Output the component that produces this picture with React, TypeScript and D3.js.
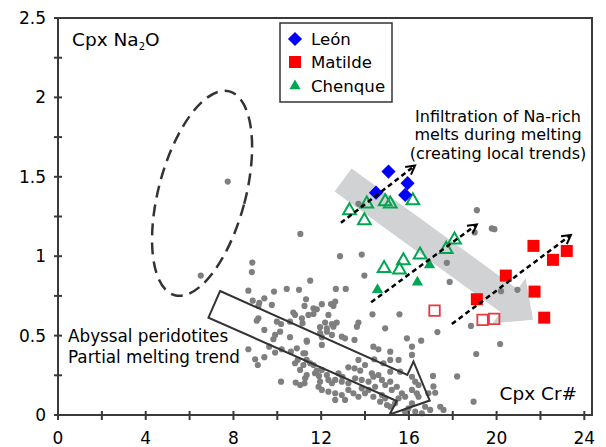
import * as d3 from "d3";
import React from "react";

const WIDTH = 606;
const HEIGHT = 447;
const MARGIN = { top: 18, right: 14, bottom: 32, left: 58 };
const FONT = "DejaVu Sans, Verdana, sans-serif";

// axis ticks
const xTicks = [0, 2, 4, 6, 8, 10, 12, 14, 16, 18, 20, 22, 24];
const xTickLabels = [0, 4, 8, 12, 16, 20, 24];
const yTicks = [0, 0.25, 0.5, 0.75, 1, 1.25, 1.5, 1.75, 2, 2.25, 2.5];
const yTickLabels = [0, 0.5, 1, 1.5, 2, 2.5];

// abyssal peridotites (Cpx Cr#, Cpx Na2O)
const abyssal: [number, number][] = [
    [7.74, 1.47], [6.51, 0.878], [11.05, 1.14], [13.7, 1.33], [19.1, 1.29], [19.0, 1.15],
    [19.78, 1.175], [19.9, 1.17], [17.73, 0.958], [17.86, 0.838], [20.2, 0.78], [20.95, 0.788],
    [18.83, 0.561], [19.07, 0.384], [20.16, 0.447], [18.2, 0.243], [18.95, 0.084],
    [17.1, 0.246], [17.12, 0.18], [17.2, 0.14], [17.3, 0.522], [16.14, 0.378], [16.44, 0.115],
    [17.43, 0.052], [17.58, 0.032], [15.15, 0.399], [15.15, 0.273], [15.6, 0.273],
    [14.42, 0.351], [14.84, 0.326], [11.42, 0.63], [11.65, 0.636], [11.35, 0.462],
    [11.27, 0.389], [11.19, 0.315], [11.5, 0.326], [12.03, 0.441], [11.95, 0.515],
    [12.49, 0.504], [12.94, 0.493], [12.26, 0.525], [12.56, 0.687], [9.18, 0.707],
    [8.86, 0.96], [8.84, 0.9], [11.5, 0.846], [8.68, 0.783], [9.85, 0.777], [10.43, 0.794],
    [10.99, 0.788], [9.41, 0.735], [8.88, 0.72], [9.14, 0.687], [9.75, 0.693], [11.31, 0.729],
    [11.24, 0.687], [11.65, 0.672], [11.8, 0.666], [9.14, 0.609], [9.06, 0.594], [9.98, 0.588],
    [10.17, 0.573], [10.73, 0.645], [10.81, 0.63], [11.12, 0.609], [11.15, 0.578], [10.58, 0.588],
    [9.41, 0.536], [10.13, 0.525], [9.9, 0.504], [9.82, 0.477], [10.58, 0.49], [11.34, 0.468],
    [8.68, 0.414], [8.99, 0.351], [9.11, 0.315], [9.41, 0.364], [9.9, 0.393], [9.63, 0.43],
    [10.2, 0.414], [10.62, 0.399], [10.89, 0.42], [11.19, 0.389], [10.81, 0.326], [10.93, 0.347],
    [11.34, 0.347], [11.65, 0.315], [11.72, 0.263], [11.9, 0.246], [11.04, 0.284], [11.27, 0.231],
    [11.34, 0.252], [10.17, 0.21], [10.84, 0.204], [11.04, 0.189], [11.24, 0.2], [11.8, 0.279],
    [12.86, 1.0], [13.85, 1.01], [13.97, 0.878], [12.67, 0.794], [13.12, 0.794], [12.03, 0.698],
    [12.45, 0.699], [12.64, 0.714], [12.33, 0.63], [14.34, 0.634], [15.57, 0.634], [14.92, 0.546],
    [13.7, 0.582], [13.63, 0.556], [12.18, 0.582], [12.49, 0.573], [12.71, 0.582], [11.95, 0.553],
    [12.26, 0.546], [12.56, 0.556], [12.03, 0.49], [13.09, 0.483], [13.52, 0.473], [15.91, 0.483],
    [16.56, 0.468], [14.38, 0.43], [14.61, 0.414], [16.14, 0.43], [15.15, 0.347], [15.53, 0.347],
    [13.7, 0.347], [14.0, 0.315], [13.24, 0.3], [13.52, 0.294], [13.78, 0.279], [12.79, 0.263],
    [12.97, 0.241], [12.64, 0.221], [12.94, 0.21], [13.24, 0.2], [12.03, 0.284], [12.26, 0.252],
    [12.33, 0.221], [12.49, 0.2], [11.95, 0.21], [11.88, 0.178], [13.55, 0.231], [13.85, 0.221],
    [14.16, 0.21], [14.38, 0.241], [14.31, 0.263], [14.61, 0.252], [14.77, 0.221], [14.92, 0.189],
    [14.46, 0.178], [14.16, 0.158], [13.85, 0.168], [15.15, 0.21], [15.45, 0.178], [15.22, 0.158],
    [15.68, 0.137], [15.83, 0.115], [15.53, 0.105], [15.37, 0.074], [15.15, 0.052], [16.14, 0.241],
    [16.29, 0.21], [16.44, 0.189], [16.14, 0.158], [16.36, 0.137], [16.89, 0.137], [16.74, 0.052],
    [16.59, 0.011], [16.97, 0.032], [13.24, 0.158], [13.47, 0.137], [13.7, 0.115], [14.0, 0.137],
    [14.38, 0.115], [14.77, 0.126], [14.92, 0.105], [14.69, 0.084], [15.0, 0.063], [12.03, 0.158],
    [12.33, 0.147], [12.64, 0.137], [12.94, 0.126], [13.09, 0.095], [12.64, 0.095], [16.14, 0.074],
    [15.98, 0.042], [16.29, 0.021], [15.83, 0.021],
];

const leon: [number, number][] = [
    [15.07, 1.533], [14.5, 1.4], [15.94, 1.46], [15.83, 1.386],
];
const matildeFilled: [number, number][] = [
    [21.68, 1.065], [23.2, 1.033], [22.57, 0.977], [20.42, 0.878], [21.73, 0.777], [19.1, 0.729], [22.17, 0.613],
];
const matildeOpen: [number, number][] = [
    [19.36, 0.599], [19.89, 0.605], [17.17, 0.657],
];
const chenqueFilled: [number, number][] = [
    [16.94, 0.945], [16.39, 0.836], [14.57, 0.788],
];
const chenqueOpen: [number, number][] = [
    [13.29, 1.287], [14.08, 1.33], [13.97, 1.224], [14.92, 1.344], [15.15, 1.33], [16.18, 1.35],
    [14.87, 0.924], [15.75, 0.972], [15.57, 0.914], [16.51, 1.008], [17.7, 1.044], [18.08, 1.103],
];

// local trend arrows (start, end) in data units
const trendArrows: [number, number, number, number][] = [
    [12.9, 1.21, 16.28, 1.571],
    [14.28, 0.71, 19.1, 1.2],
    [17.96, 0.573, 23.39, 1.134],
];
// abyssal melting trend outline arrow
const meltingArrow: [number, number][] = [
    [7.39, 0.781], [15.93, 0.252], [16.21, 0.337], [16.95, 0.091], [15.12, 0.003], [15.45, 0.088], [6.86, 0.613],
];
// grey trend band: start centre, head base, tip
const bandPoints: [number, number][] = [[13.0, 1.48], [20.57, 0.72], [21.66, 0.6]];
const ellipseCentre: [number, number] = [6.57, 1.396];

const COLORS = {
    leon: "#0000ff",
    matilde: "#ff0000",
    matildeOpen: "#e8383d",
    chenque: "#00a651",
    dots: "#7f7f7f",
    axis: "#3a3a3a",
    band: "#d1d2d4",
};

const App: React.FC = () => {
    const xScale = d3.scaleLinear().domain([0, 24.35]).range([MARGIN.left, WIDTH - MARGIN.right]);
    const yScale = d3.scaleLinear().domain([0, 2.5]).range([HEIGHT - MARGIN.bottom, MARGIN.top]);
    const x0 = xScale(0);
    const y0 = yScale(0);

    const diamond = d3.symbol(d3.symbolSquare, 100)()!;
    const square = d3.symbol(d3.symbolSquare, 144)()!;
    const openSquare = d3.symbol(d3.symbolSquare, 110)()!;
    const triOpen = d3.symbol(d3.symbolTriangle, 70)()!;
    const triFilled = d3.symbol(d3.symbolTriangle, 55)()!;

    // grey band polygon
    const [s, b, t] = bandPoints.map(([x, y]) => [xScale(x), yScale(y)]);
    const dx = t[0] - s[0];
    const dy = t[1] - s[1];
    const len = Math.hypot(dx, dy);
    const nx = -dy / len;
    const ny = dx / len;
    const bw = 14.3;
    const hw = 28;
    const bandPoly = [
        [s[0] + nx * bw, s[1] + ny * bw],
        [b[0] + nx * bw, b[1] + ny * bw],
        [b[0] + nx * hw, b[1] + ny * hw],
        t,
        [b[0] - nx * hw, b[1] - ny * hw],
        [b[0] - nx * bw, b[1] - ny * bw],
        [s[0] - nx * bw, s[1] - ny * bw],
    ];

    const line = d3.line<[number, number]>().x((d) => xScale(d[0])).y((d) => yScale(d[1]));

    return (
        <div style={{ position: "absolute", left: 0, top: 0 }}>
            <svg width={WIDTH} height={HEIGHT} style={{ display: "block", fontFamily: FONT }}>
                <rect width={WIDTH} height={HEIGHT} fill="#fff" />
                <polygon points={bandPoly.map((p) => p.join(",")).join(" ")} fill={COLORS.band} />

                <ellipse
                    cx={0}
                    cy={0}
                    rx={43.4}
                    ry={105.5}
                    transform={`translate(${xScale(ellipseCentre[0])},${yScale(ellipseCentre[1])}) rotate(15)`}
                    fill="none"
                    stroke="#333"
                    strokeWidth={2.5}
                    strokeDasharray="12,7"
                />

                {abyssal.map((d, i) => (
                    <circle key={i} cx={xScale(d[0])} cy={yScale(d[1])} r={3.1} fill={COLORS.dots} />
                ))}

                <path d={line(meltingArrow) + "Z"} fill="none" stroke="#333" strokeWidth={2} strokeLinejoin="miter" />

                {matildeOpen.map((d, i) => (
                    <path key={i} d={openSquare} transform={`translate(${xScale(d[0])},${yScale(d[1])})`} fill="none" stroke={COLORS.matildeOpen} strokeWidth={1.8} />
                ))}
                {matildeFilled.map((d, i) => (
                    <path key={i} d={square} transform={`translate(${xScale(d[0])},${yScale(d[1])})`} fill={COLORS.matilde} />
                ))}
                {chenqueOpen.map((d, i) => (
                    <path key={i} d={triOpen} transform={`translate(${xScale(d[0])},${yScale(d[1])})`} fill="none" stroke={COLORS.chenque} strokeWidth={2} />
                ))}
                {chenqueFilled.map((d, i) => (
                    <path key={i} d={triFilled} transform={`translate(${xScale(d[0])},${yScale(d[1])})`} fill={COLORS.chenque} />
                ))}
                {leon.map((d, i) => (
                    <path key={i} d={diamond} transform={`translate(${xScale(d[0])},${yScale(d[1])}) rotate(45)`} fill={COLORS.leon} />
                ))}

                {trendArrows.map(([xa, ya, xb, yb], i) => {
                    const x1 = xScale(xa);
                    const y1 = yScale(ya);
                    const x2 = xScale(xb);
                    const y2 = yScale(yb);
                    const ang = Math.atan2(y2 - y1, x2 - x1);
                    const hl = 10;
                    const p1 = [x2 - hl * Math.cos(ang - 0.5), y2 - hl * Math.sin(ang - 0.5)];
                    const p2 = [x2 - hl * Math.cos(ang + 0.5), y2 - hl * Math.sin(ang + 0.5)];
                    return (
                        <g key={i}>
                            <line x1={x1} y1={y1} x2={x2 - 2 * Math.cos(ang)} y2={y2 - 2 * Math.sin(ang)} stroke="#000" strokeWidth={2.5} strokeDasharray="5,3.5" />
                            <path d={`M${p1[0]},${p1[1]}L${x2},${y2}L${p2[0]},${p2[1]}`} fill="none" stroke="#000" strokeWidth={2} />
                        </g>
                    );
                })}

                {/* frame */}
                <rect x={x0} y={MARGIN.top} width={xScale.range()[1] - x0} height={y0 - MARGIN.top} fill="none" stroke={COLORS.axis} strokeWidth={2} />

                {/* x axis */}
                {xTicks.map((v) => (
                    <line key={v} x1={xScale(v)} x2={xScale(v)} y1={y0 - 4} y2={y0 + 5} stroke={COLORS.axis} strokeWidth={2} />
                ))}
                {xTickLabels.map((v) => (
                    <text key={v} x={xScale(v)} y={444} textAnchor="middle" fontSize={17} fill="#000">
                        {v}
                    </text>
                ))}
                {/* y axis */}
                {yTicks.map((v) => (
                    <line key={v} x1={x0 - 4} x2={x0 + 4} y1={yScale(v)} y2={yScale(v)} stroke={COLORS.axis} strokeWidth={2} />
                ))}
                {yTickLabels.map((v) => (
                    <text key={v} x={46} y={yScale(v) + 6} textAnchor="end" fontSize={17} fill="#000">
                        {v}
                    </text>
                ))}

                <text x={72} y={46} fontSize={18.5}>
                    Cpx Na<tspan fontSize={10} dy={4}>2</tspan>
                    <tspan dy={-4}>O</tspan>
                </text>
                <text x={577} y={400} fontSize={18.5} textAnchor="end">
                    Cpx Cr#
                </text>

                <g fontSize={16} textAnchor="middle">
                    <text x={498} y={121.7}>Infiltration of Na-rich</text>
                    <text x={498} y={140.4}>melts during melting</text>
                    <text x={498} y={159.2}>(creating local trends)</text>
                </g>
                <g fontSize={16.8}>
                    <text x={68} y={342}>Abyssal peridotites</text>
                    <text x={68} y={362.5}>Partial melting trend</text>
                </g>

                {/* legend */}
                <rect x={280} y={23} width={112} height={79} fill="#fff" stroke="#333" strokeWidth={1.5} />
                <path d={diamond} transform="translate(295,39) rotate(45)" fill={COLORS.leon} />
                <path d={square} transform="translate(295,62)" fill={COLORS.matilde} />
                <path d={triFilled} transform="translate(295,86)" fill={COLORS.chenque} />
                <g fontSize={16.6}>
                    <text x={311} y={45}>León</text>
                    <text x={311} y={68}>Matilde</text>
                    <text x={311} y={92}>Chenque</text>
                </g>
            </svg>
        </div>
    );
};

export default App;
